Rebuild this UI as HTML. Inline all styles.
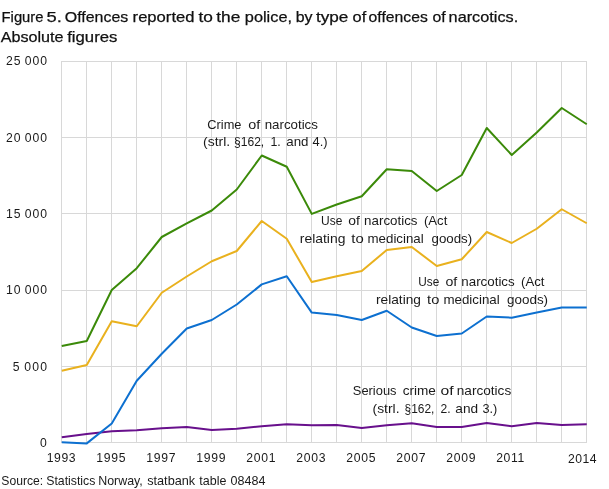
<!DOCTYPE html>
<html lang="en"><head><meta charset="utf-8"><title>Figure 5</title>
<style>html,body{margin:0;padding:0;background:#fff}svg{display:block}text{font-family:"Liberation Sans",Arial,sans-serif;fill:#1a1a1a}.t{font-size:15px;font-weight:400;fill:#111;stroke:#111;stroke-width:0.25px}.a{font-size:12.2px}.n{font-size:13.3px}.y{word-spacing:-1px}.l{fill:none;stroke-width:2;stroke-linejoin:round;stroke-linecap:butt}</style></head><body>
<svg width="609" height="489" viewBox="0 0 609 489">
<rect width="609" height="489" fill="#ffffff"/>
<path d="M61.5 61V443M86.5 61V443M111.5 61V443M136.5 61V443M161.5 61V443M186.5 61V443M211.5 61V443M236.5 61V443M261.5 61V443M286.5 61V443M311.5 61V443M336.5 61V443M361.5 61V443M386.5 61V443M411.5 61V443M436.5 61V443M461.5 61V443M486.5 61V443M511.5 61V443M536.5 61V443M561.5 61V443M586.5 61V443M61 61.5H587M61 137.5H587M61 213.5H587M61 290.5H587M61 366.5H587M61 442.5H587" stroke="#d8d8d8" stroke-width="1" fill="none" shape-rendering="crispEdges"/>
<path class="l" d="M61.75 437.25 L86.75 434.00 L111.75 431.25 L136.75 430.25 L161.75 428.25 L186.75 427.00 L211.75 430.00 L236.75 428.75 L261.75 426.25 L286.75 424.25 L311.75 425.25 L336.75 425.00 L361.75 428.00 L386.75 425.25 L411.75 423.25 L436.75 427.00 L461.75 427.00 L486.75 423.00 L511.75 426.25 L536.75 423.00 L561.75 425.00 L586.75 424.25" stroke="#68108c"/>
<path class="l" d="M61.75 442.30 L86.75 443.40 L111.75 423.50 L136.75 380.75 L161.75 353.75 L186.75 328.50 L211.75 320.00 L236.75 304.50 L261.75 284.40 L286.75 276.25 L311.75 312.60 L336.75 315.00 L361.75 320.00 L386.75 310.75 L411.75 327.50 L436.75 336.00 L461.75 333.50 L486.75 316.50 L511.75 317.70 L536.75 312.60 L561.75 307.50 L586.75 307.50" stroke="#0d70d0"/>
<path class="l" d="M61.75 370.75 L86.75 365.00 L111.75 321.25 L136.75 326.25 L161.75 292.75 L186.75 276.50 L211.75 261.25 L236.75 251.00 L261.75 221.00 L286.75 238.75 L311.75 282.00 L336.75 276.25 L361.75 271.00 L386.75 250.00 L411.75 247.00 L436.75 266.00 L461.75 259.25 L486.75 232.00 L511.75 243.00 L536.75 228.75 L561.75 209.25 L586.75 223.25" stroke="#e9b11e"/>
<path class="l" d="M61.75 346.10 L86.75 341.00 L111.75 290.00 L136.75 268.20 L161.75 237.00 L186.75 223.40 L211.75 210.50 L236.75 189.50 L261.75 155.50 L286.75 166.75 L311.75 213.90 L336.75 204.50 L361.75 196.25 L386.75 169.25 L411.75 171.00 L436.75 191.00 L461.75 175.00 L486.75 128.00 L511.75 155.00 L536.75 132.50 L561.75 108.00 L586.75 124.25" stroke="#3b8a09"/>
<text class="t" x="1.6" y="21.8" textLength="41.9" lengthAdjust="spacingAndGlyphs">Figure</text>
<text class="t" x="46.5" y="21.8" textLength="15.3" lengthAdjust="spacingAndGlyphs">5.</text>
<text class="t" x="64.8" y="21.8" textLength="63.5" lengthAdjust="spacingAndGlyphs">Offences</text>
<text class="t" x="132.6" y="21.8" textLength="61.9" lengthAdjust="spacingAndGlyphs">reported</text>
<text class="t" x="198.4" y="21.8" textLength="14.4" lengthAdjust="spacingAndGlyphs">to</text>
<text class="t" x="216.2" y="21.8" textLength="24.1" lengthAdjust="spacingAndGlyphs">the</text>
<text class="t" x="244.8" y="21.8" textLength="47.2" lengthAdjust="spacingAndGlyphs">police,</text>
<text class="t" x="295.7" y="21.8" textLength="16.8" lengthAdjust="spacingAndGlyphs">by</text>
<text class="t" x="316.0" y="21.8" textLength="32.4" lengthAdjust="spacingAndGlyphs">type</text>
<text class="t" x="352.6" y="21.8" textLength="13.6" lengthAdjust="spacingAndGlyphs">of</text>
<text class="t" x="368.6" y="21.8" textLength="59.2" lengthAdjust="spacingAndGlyphs">offences</text>
<text class="t" x="432.4" y="21.8" textLength="13.2" lengthAdjust="spacingAndGlyphs">of</text>
<text class="t" x="448.6" y="21.8" textLength="69.6" lengthAdjust="spacingAndGlyphs">narcotics.</text>
<text class="t" x="0.7" y="41.6" textLength="62.9" lengthAdjust="spacingAndGlyphs">Absolute</text>
<text class="t" x="67.2" y="41.6" textLength="50.2" lengthAdjust="spacingAndGlyphs">figures</text>
<text class="a y" x="5.9" y="64.9" textLength="41.1" lengthAdjust="spacing">25 000</text>
<text class="a y" x="5.9" y="141.8" textLength="41.1" lengthAdjust="spacing">20 000</text>
<text class="a y" x="5.9" y="218.0" textLength="41.1" lengthAdjust="spacing">15 000</text>
<text class="a y" x="5.9" y="293.9" textLength="41.1" lengthAdjust="spacing">10 000</text>
<text class="a y" x="12.7" y="371.0" textLength="34.3" lengthAdjust="spacing">5 000</text>
<text class="a y" x="40.0" y="446.5" textLength="7.0" lengthAdjust="spacing">0</text>
<text class="a" x="46.7" y="462.0" textLength="28.9" lengthAdjust="spacing">1993</text>
<text class="a" x="96.2" y="462.0" textLength="29.4" lengthAdjust="spacing">1995</text>
<text class="a" x="146.2" y="462.0" textLength="29.4" lengthAdjust="spacing">1997</text>
<text class="a" x="196.2" y="462.0" textLength="29.4" lengthAdjust="spacing">1999</text>
<text class="a" x="246.2" y="462.0" textLength="29.4" lengthAdjust="spacing">2001</text>
<text class="a" x="296.2" y="462.0" textLength="29.4" lengthAdjust="spacing">2003</text>
<text class="a" x="346.2" y="462.0" textLength="29.4" lengthAdjust="spacing">2005</text>
<text class="a" x="396.2" y="462.0" textLength="29.4" lengthAdjust="spacing">2007</text>
<text class="a" x="446.2" y="462.0" textLength="29.4" lengthAdjust="spacing">2009</text>
<text class="a" x="496.2" y="462.0" textLength="28.1" lengthAdjust="spacing">2011</text>
<text class="a" x="568.0" y="463.2" textLength="28.5" lengthAdjust="spacing">2014</text>
<text class="n" x="1.3" y="485.0" textLength="41.9" lengthAdjust="spacingAndGlyphs">Source:</text>
<text class="n" x="46.2" y="485.0" textLength="49.2" lengthAdjust="spacingAndGlyphs">Statistics</text>
<text class="n" x="98.2" y="485.0" textLength="44.6" lengthAdjust="spacingAndGlyphs">Norway,</text>
<text class="n" x="147.2" y="485.0" textLength="48.0" lengthAdjust="spacingAndGlyphs">statbank</text>
<text class="n" x="199.3" y="485.0" textLength="27.1" lengthAdjust="spacingAndGlyphs">table</text>
<text class="n" x="230.5" y="485.0" textLength="34.9" lengthAdjust="spacingAndGlyphs">08484</text>
<text class="n" x="207.3" y="128.5" textLength="34.2" lengthAdjust="spacingAndGlyphs">Crime</text>
<text class="n" x="248.3" y="128.5" textLength="12.0" lengthAdjust="spacingAndGlyphs">of</text>
<text class="n" x="264.7" y="128.5" textLength="53.2" lengthAdjust="spacingAndGlyphs">narcotics</text>
<text class="n" x="203.1" y="146.4" textLength="27.1" lengthAdjust="spacingAndGlyphs">(strl.</text>
<text class="n" x="234.0" y="146.4" textLength="30.2" lengthAdjust="spacingAndGlyphs">§162,</text>
<text class="n" x="270.4" y="146.4" textLength="10.3" lengthAdjust="spacingAndGlyphs">1.</text>
<text class="n" x="286.3" y="146.4" textLength="22.2" lengthAdjust="spacingAndGlyphs">and</text>
<text class="n" x="312.5" y="146.4" textLength="15.0" lengthAdjust="spacingAndGlyphs">4.)</text>
<text class="n" x="321.1" y="225.3" textLength="21.3" lengthAdjust="spacingAndGlyphs">Use</text>
<text class="n" x="348.3" y="225.3" textLength="11.6" lengthAdjust="spacingAndGlyphs">of</text>
<text class="n" x="364.1" y="225.3" textLength="53.4" lengthAdjust="spacingAndGlyphs">narcotics</text>
<text class="n" x="424.0" y="225.3" textLength="23.3" lengthAdjust="spacingAndGlyphs">(Act</text>
<text class="n" x="299.8" y="243.3" textLength="45.6" lengthAdjust="spacingAndGlyphs">relating</text>
<text class="n" x="351.3" y="243.3" textLength="12.4" lengthAdjust="spacingAndGlyphs">to</text>
<text class="n" x="367.5" y="243.3" textLength="56.2" lengthAdjust="spacingAndGlyphs">medicinal</text>
<text class="n" x="431.5" y="243.3" textLength="40.7" lengthAdjust="spacingAndGlyphs">goods)</text>
<text class="n" x="418.3" y="286.3" textLength="21.0" lengthAdjust="spacingAndGlyphs">Use</text>
<text class="n" x="445.5" y="286.3" textLength="11.8" lengthAdjust="spacingAndGlyphs">of</text>
<text class="n" x="461.3" y="286.3" textLength="53.4" lengthAdjust="spacingAndGlyphs">narcotics</text>
<text class="n" x="521.1" y="286.3" textLength="23.4" lengthAdjust="spacingAndGlyphs">(Act</text>
<text class="n" x="376.0" y="304.3" textLength="45.0" lengthAdjust="spacingAndGlyphs">relating</text>
<text class="n" x="427.1" y="304.3" textLength="12.2" lengthAdjust="spacingAndGlyphs">to</text>
<text class="n" x="443.4" y="304.3" textLength="56.3" lengthAdjust="spacingAndGlyphs">medicinal</text>
<text class="n" x="507.1" y="304.3" textLength="41.0" lengthAdjust="spacingAndGlyphs">goods)</text>
<text class="n" x="352.8" y="395.1" textLength="43.7" lengthAdjust="spacingAndGlyphs">Serious</text>
<text class="n" x="402.7" y="395.1" textLength="33.2" lengthAdjust="spacingAndGlyphs">crime</text>
<text class="n" x="440.5" y="395.1" textLength="13.1" lengthAdjust="spacingAndGlyphs">of</text>
<text class="n" x="456.8" y="395.1" textLength="54.4" lengthAdjust="spacingAndGlyphs">narcotics</text>
<text class="n" x="372.6" y="412.9" textLength="26.9" lengthAdjust="spacingAndGlyphs">(strl.</text>
<text class="n" x="404.5" y="412.9" textLength="29.9" lengthAdjust="spacingAndGlyphs">§162,</text>
<text class="n" x="440.5" y="412.9" textLength="10.1" lengthAdjust="spacingAndGlyphs">2.</text>
<text class="n" x="455.3" y="412.9" textLength="22.8" lengthAdjust="spacingAndGlyphs">and</text>
<text class="n" x="482.5" y="412.9" textLength="14.8" lengthAdjust="spacingAndGlyphs">3.)</text>
</svg></body></html>
